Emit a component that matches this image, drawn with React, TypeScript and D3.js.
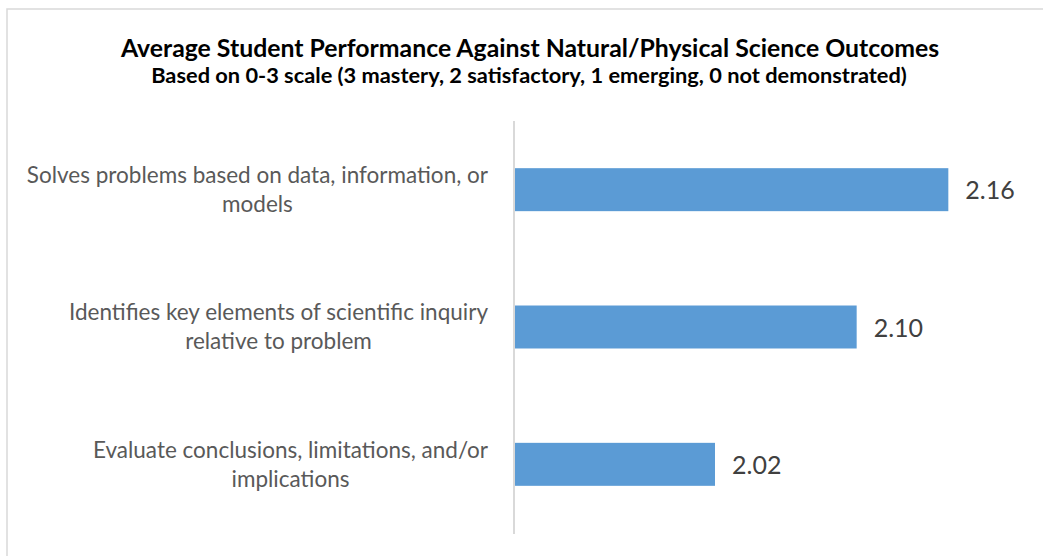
import React, { useEffect, useRef } from "react";
import * as d3 from "d3";

const title = "Average Student Performance Against Natural/Physical Science Outcomes";
const subtitle = "Based on 0-3 scale (3 mastery, 2 satisfactory, 1 emerging, 0 not demonstrated)";
const categories = [
  "Solves problems based on data, information, or\nmodels",
  "Identifies key elements of scientific inquiry\nrelative to problem",
  "Evaluate conclusions, limitations, and/or\nimplications",
];
const values = [2.16, 2.105, 2.02];
const axisDomain = [1.9, 2.2];

const W = 1043;
const H = 556;
const FONT = "Lato, 'Open Sans', sans-serif";

export default function App() {
  const ref = useRef<SVGSVGElement | null>(null);

  useEffect(() => {
    const svg = d3.select(ref.current);
    svg.selectAll("*").remove();

    svg.append("rect").attr("width", W).attr("height", H).attr("fill", "#fff");
    // chart border
    svg
      .append("rect")
      .attr("x", 7)
      .attr("y", 9)
      .attr("width", W + 20)
      .attr("height", H + 20)
      .attr("fill", "none")
      .attr("stroke", "#d9d9d9")
      .attr("stroke-width", 1.5);

    svg
      .append("text")
      .attr("x", 530)
      .attr("y", 57)
      .attr("text-anchor", "middle")
      .attr("font-family", FONT)
      .attr("font-weight", "bold")
      .attr("font-size", 24.8)
      .attr("fill", "#000")
      .text(title);
    svg
      .append("text")
      .attr("x", 529)
      .attr("y", 83)
      .attr("text-anchor", "middle")
      .attr("font-family", FONT)
      .attr("font-weight", "bold")
      .attr("font-size", 21.8)
      .attr("fill", "#000")
      .text(subtitle);

    const x = d3.scaleLinear().domain(axisDomain).range([515, 1015]);
    const y = d3
      .scaleBand<string>()
      .domain(categories)
      .range([121, 533])
      .paddingInner(0.687)
      .paddingOuter(0.3435);

    const g = svg.append("g");
    g.selectAll("rect.bar")
      .data(values)
      .join("rect")
      .attr("class", "bar")
      .attr("x", x(axisDomain[0]))
      .attr("y", (_d, i) => y(categories[i])!)
      .attr("width", (d) => x(d) - x(axisDomain[0]))
      .attr("height", y.bandwidth())
      .attr("fill", "#5b9bd5");

    // axis line
    svg
      .append("line")
      .attr("x1", x(axisDomain[0]) - 1)
      .attr("x2", x(axisDomain[0]) - 1)
      .attr("y1", 121)
      .attr("y2", 534)
      .attr("stroke", "#d9d9d9")
      .attr("stroke-width", 2);

    // data labels
    g.selectAll("text.val")
      .data(values)
      .join("text")
      .attr("class", "val")
      .attr("x", (d) => x(d) + 17)
      .attr("y", (_d, i) => y(categories[i])! + y.bandwidth() / 2 + 1)
      .attr("dy", "0.35em")
      .attr("font-family", FONT)
      .attr("font-size", 25)
      .attr("fill", "#404040")
      .text((d) => d.toFixed(2));

    // category labels: multi-line, centered, block right-aligned
    const labelRight = 488;
    const lineH = 29;
    categories.forEach((c) => {
      const lines = c.split("\n");
      const cy = y(c)! + y.bandwidth() / 2;
      const t = svg
        .append("text")
        .attr("font-family", FONT)
        .attr("font-size", 22.5)
        .attr("fill", "#595959")
        .attr("text-anchor", "middle");
      const spans = lines.map((ln, k) =>
        t
          .append("tspan")
          .attr("y", cy + (k - (lines.length - 1) / 2) * lineH)
          .attr("dy", "0.35em")
          .text(ln)
      );
      const maxW = d3.max(spans, (s) => (s.node() as SVGTSpanElement).getComputedTextLength()) || 0;
      spans.forEach((s) => s.attr("x", labelRight - maxW / 2));
    });
  }, []);

  return (
    <svg
      ref={ref}
      width={W}
      height={H}
      style={{ position: "absolute", left: 0, top: 0, display: "block" }}
    />
  );
}
